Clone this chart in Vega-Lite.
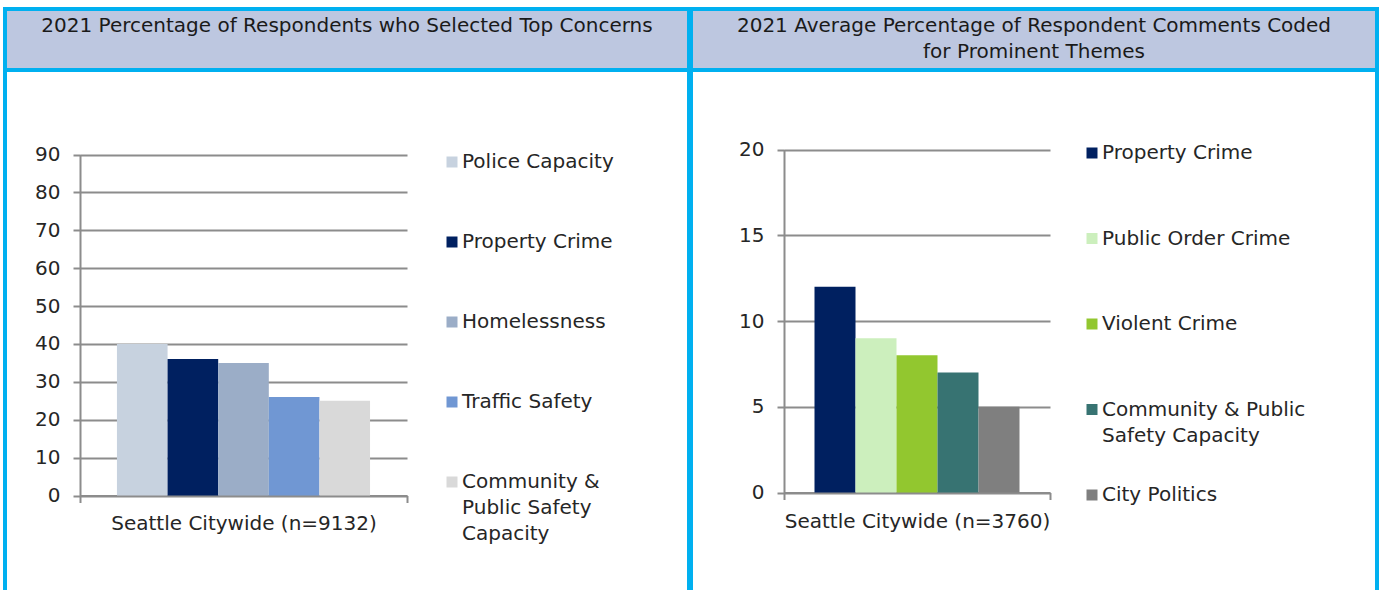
{
  "$schema": "https://vega.github.io/schema/vega-lite/v6.json",
  "padding": {"left": 3, "top": 7, "right": 0, "bottom": 0},
  "background": "white",
  "config": {"font": "DejaVu Sans", "view": {"stroke": null}},
  "datasets": {
    "h1": [{"t": "2021 Percentage of Respondents who Selected Top Concerns"}],
    "h2": [{"t": "2021 Average Percentage of Respondent Comments Coded\nfor Prominent Themes"}],
    "concerns": [
      {"area": "Seattle Citywide (n=9132)", "concern": "Police Capacity", "pct": 40},
      {"area": "Seattle Citywide (n=9132)", "concern": "Property Crime", "pct": 36},
      {"area": "Seattle Citywide (n=9132)", "concern": "Homelessness", "pct": 35},
      {"area": "Seattle Citywide (n=9132)", "concern": "Traffic Safety", "pct": 26},
      {"area": "Seattle Citywide (n=9132)", "concern": "Community & Public Safety Capacity", "pct": 25}
    ],
    "themes": [
      {"area": "Seattle Citywide (n=3760)", "theme": "Property Crime", "pct": 12},
      {"area": "Seattle Citywide (n=3760)", "theme": "Public Order Crime", "pct": 9},
      {"area": "Seattle Citywide (n=3760)", "theme": "Violent Crime", "pct": 8},
      {"area": "Seattle Citywide (n=3760)", "theme": "Community & Public Safety Capacity", "pct": 7},
      {"area": "Seattle Citywide (n=3760)", "theme": "City Politics", "pct": 5}
    ]
  },
  "spacing": -4,
  "resolve": {"scale": {"x": "independent", "y": "independent", "xOffset": "independent", "color": "independent"}, "legend": {"color": "independent"}},
  "hconcat": [
    {
      "spacing": 0,
      "bounds": "flush",
      "resolve": {"scale": {"x": "independent", "y": "independent", "xOffset": "independent", "color": "independent"}, "legend": {"color": "independent"}},
      "vconcat": [
        {
          "width": 684, "height": 61,
          "view": {"fill": "#BDC7E0", "stroke": "#00B0F0", "strokeWidth": 4},
          "data": {"name": "h1"},
          "mark": {"type": "text", "fontSize": 20, "color": "#1a1a1a", "baseline": "top", "dy": -24, "lineBreak": "\n", "lineHeight": 26},
          "encoding": {"text": {"field": "t", "type": "nominal"}}
        },
        {
          "width": 684, "height": 530,
          "view": {"fill": "white", "stroke": "#00B0F0", "strokeWidth": 4},
          "data": {"name": "concerns"},
          "mark": {"type": "bar"},
          "encoding": {
            "x": {"field": "area", "type": "nominal", "title": null,
                  "scale": {"range": [75, 402], "paddingInner": 0, "paddingOuter": 0},
                  "axis": {"orient": "bottom", "offset": -104.5, "domainColor": "#8c8c8c", "domainWidth": 2, "ticks": true, "tickBand": "extent", "tickSize": 7, "tickColor": "#8c8c8c", "tickWidth": 2, "labelFontSize": 20, "labelColor": "#262626", "labelPadding": 11, "labelAngle": 0, "labelLimit": 400, "grid": false}},
            "xOffset": {"field": "concern", "type": "nominal",
                  "scale": {"domain": ["Police Capacity", "Property Crime", "Homelessness", "Traffic Safety", "Community & Public Safety Capacity"], "paddingOuter": 0.73, "paddingInner": 0}},
            "y": {"field": "pct", "type": "quantitative", "title": null,
                  "scale": {"domain": [0, 90], "range": [425.5, 84.5], "nice": false, "zero": true},
                  "axis": {"offset": -75, "values": [0, 10, 20, 30, 40, 50, 60, 70, 80, 90], "grid": true, "gridColor": "#8c8c8c", "gridWidth": 2, "domainColor": "#8c8c8c", "domainWidth": 2, "tickSize": 7, "tickColor": "#8c8c8c", "tickWidth": 2, "labelFontSize": 20, "labelColor": "#262626", "labelPadding": 13}},
            "color": {"field": "concern", "type": "nominal",
                  "scale": {"domain": ["Police Capacity", "Property Crime", "Homelessness", "Traffic Safety", "Community & Public Safety Capacity"],
                            "range": ["#C7D2DF", "#002060", "#9BADC7", "#7097D3", "#D9D9D9"]},
                  "legend": {"orient": "none", "legendX": 437, "legendY": 82, "title": null, "padding": 0,
                             "symbolType": "square", "symbolSize": 121, "symbolStrokeWidth": 0,
                             "labelFontSize": 20, "labelColor": "#262626", "labelOffset": 0, "labelLimit": 400,
                             "rowPadding": 8, "gridAlign": "all",
                             "labelExpr": "datum.label == 'Community & Public Safety Capacity' ? ['Community &', 'Public Safety', 'Capacity'] : datum.label",
                             "encode": {"labels": {"update": {"lineHeight": {"value": 26}}}}}}
          }
        }
      ]
    },
    {
      "spacing": 0,
      "bounds": "flush",
      "resolve": {"scale": {"x": "independent", "y": "independent", "xOffset": "independent", "color": "independent"}, "legend": {"color": "independent"}},
      "vconcat": [
        {
          "width": 686, "height": 61,
          "view": {"fill": "#BDC7E0", "stroke": "#00B0F0", "strokeWidth": 4},
          "data": {"name": "h2"},
          "mark": {"type": "text", "fontSize": 20, "color": "#1a1a1a", "baseline": "top", "dy": -24, "lineBreak": "\n", "lineHeight": 26},
          "encoding": {"text": {"field": "t", "type": "nominal"}}
        },
        {
          "width": 686, "height": 530,
          "view": {"fill": "white", "stroke": "#00B0F0", "strokeWidth": 4},
          "data": {"name": "themes"},
          "mark": {"type": "bar"},
          "encoding": {
            "x": {"field": "area", "type": "nominal", "title": null,
                  "scale": {"range": [93, 359], "paddingInner": 0, "paddingOuter": 0},
                  "axis": {"orient": "bottom", "offset": -107.5, "domainColor": "#8c8c8c", "domainWidth": 2, "ticks": true, "tickBand": "extent", "tickSize": 7, "tickColor": "#8c8c8c", "tickWidth": 2, "labelFontSize": 20, "labelColor": "#262626", "labelPadding": 12, "labelAngle": 0, "labelLimit": 400, "grid": false}},
            "xOffset": {"field": "theme", "type": "nominal",
                  "scale": {"domain": ["Property Crime", "Public Order Crime", "Violent Crime", "Community & Public Safety Capacity", "City Politics"], "paddingOuter": 0.744, "paddingInner": 0}},
            "y": {"field": "pct", "type": "quantitative", "title": null,
                  "scale": {"domain": [0, 20], "range": [422.5, 79.5], "nice": false, "zero": true},
                  "axis": {"offset": -93, "values": [0, 5, 10, 15, 20], "grid": true, "gridColor": "#8c8c8c", "gridWidth": 2, "domainColor": "#8c8c8c", "domainWidth": 2, "tickSize": 7, "tickColor": "#8c8c8c", "tickWidth": 2, "labelFontSize": 20, "labelColor": "#262626", "labelPadding": 13}},
            "color": {"field": "theme", "type": "nominal",
                  "scale": {"domain": ["Property Crime", "Public Order Crime", "Violent Crime", "Community & Public Safety Capacity", "City Politics"],
                            "range": ["#002060", "#CCEFBD", "#92C72F", "#377372", "#7F7F7F"]},
                  "legend": {"orient": "none", "legendX": 391, "legendY": 73, "title": null, "padding": 0,
                             "symbolType": "square", "symbolSize": 121, "symbolStrokeWidth": 0,
                             "labelFontSize": 20, "labelColor": "#262626", "labelOffset": 0, "labelLimit": 400,
                             "rowPadding": 39.5, "gridAlign": "all",
                             "labelExpr": "datum.label == 'Community & Public Safety Capacity' ? ['Community & Public', 'Safety Capacity'] : datum.label",
                             "encode": {"labels": {"update": {"lineHeight": {"value": 26}}}}}}
          }
        }
      ]
    }
  ]
}
